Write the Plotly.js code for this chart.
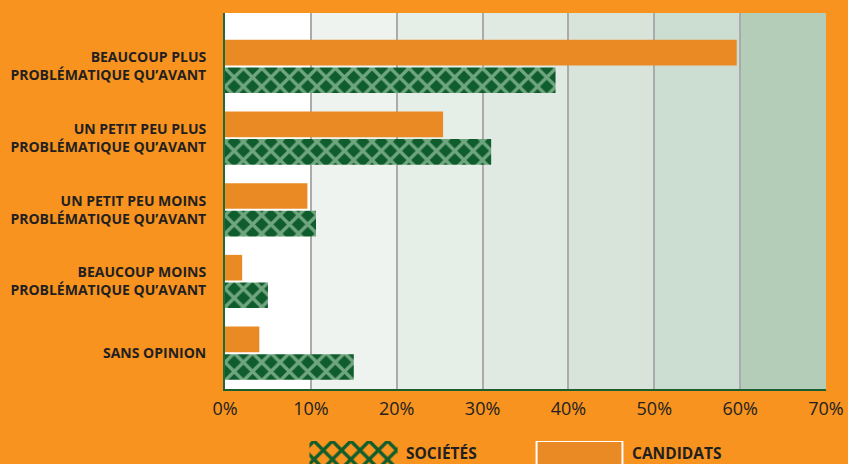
<!DOCTYPE html>
<html>
<head>
<meta charset="utf-8">
<script src="https://cdn.plot.ly/plotly-3.0.1.min.js"></script>
<style>html,body{margin:0;padding:0;background:#F7931E;}#chart{width:848px;height:464px;}</style>
</head>
<body>
<div id="chart"></div>
<script>
// ---- data ----
const categories = [
  "BEAUCOUP PLUS<br>PROBLÉMATIQUE QU’AVANT",
  "UN PETIT PEU PLUS<br>PROBLÉMATIQUE QU’AVANT",
  "UN PETIT PEU MOINS<br>PROBLÉMATIQUE QU’AVANT",
  "BEAUCOUP MOINS<br>PROBLÉMATIQUE QU’AVANT",
  "SANS OPINION"
];
const candidats = [59.6, 25.4, 9.6, 2.0, 4.0];
const societes  = [38.5, 31.0, 10.6, 5.0, 15.0];
const tickVals  = [0, 10, 20, 30, 40, 50, 60, 70];
const tickText  = ["0%", "10%", "20%", "30%", "40%", "50%", "60%", "70%"];
const seriesNames = ["SOCIÉTÉS", "CANDIDATS"];
const bandColors = ["#FFFFFF", "#EEF3EF", "#E6EEE8", "#E0EAE2", "#D8E4DA", "#CCDED1", "#B3CDB8"];

// ---- styles ----
const ORANGE = "#E98A24";
const DARK = "#0F5C2C";
const LIGHT = "#6FA67F";
const TEXT = "#231F20";
const FONT = "Open Sans, sans-serif";
const PATTERN = { shape: "x", fgcolor: LIGHT, bgcolor: DARK, size: 13, solidity: 0.45 };

const traces = [
  {
    type: "bar", orientation: "h", name: seriesNames[1],
    y: categories.map((c, i) => i), x: candidats,
    marker: { color: ORANGE, line: { width: 0 } },
    showlegend: false, hoverinfo: "x"
  },
  {
    type: "bar", orientation: "h", name: seriesNames[0],
    y: categories.map((c, i) => i), x: societes,
    marker: { color: DARK, line: { width: 0 }, pattern: PATTERN },
    showlegend: false, hoverinfo: "x"
  },
  // legend swatches
  {
    type: "bar", xaxis: "x2", yaxis: "y2",
    x: [0, 1], y: [1, 1], width: [0.39, 0.38],
    marker: {
      color: [DARK, ORANGE],
      line: { color: ["rgba(0,0,0,0)", "#FFFFFF"], width: [0, 2] },
      pattern: { shape: ["x", ""], fgcolor: [LIGHT, ORANGE], bgcolor: [DARK, ORANGE], size: 13, solidity: 0.45 }
    },
    showlegend: false, hoverinfo: "skip"
  }
];

const shapes = bandColors.map((c, i) => ({
  type: "rect", xref: "x", yref: "y domain", layer: "below",
  x0: tickVals[i], x1: tickVals[i + 1], y0: 0, y1: 1,
  fillcolor: c, line: { width: 0 }
}));

const annotations = seriesNames.map((n, i) => ({
  xref: "x2", yref: "y2", x: i, y: 0.5, xshift: 50, yshift: 0,
  xanchor: "left", yanchor: "middle", showarrow: false,
  text: "<b>" + n + "</b>", font: { family: FONT, size: 15.5, color: TEXT }
}));

const layout = {
  width: 848, height: 464,
  margin: { l: 225, r: 22, t: 13, b: 0, pad: 0 },
  paper_bgcolor: "#F7931E",
  plot_bgcolor: "rgba(0,0,0,0)",
  barmode: "group", bargap: 0.23, bargroupgap: 0.07,
  showlegend: false,
  font: { family: FONT, color: TEXT },
  xaxis: {
    range: [0, 70], tickvals: tickVals, ticktext: tickText,
    showgrid: true, gridcolor: "#ABABAB", gridwidth: 2,
    zeroline: false, showline: true, linecolor: "#1D5E30", linewidth: 2,
    ticks: "", ticklabelstandoff: 2,
    tickfont: { family: FONT, size: 18, color: TEXT }, fixedrange: true
  },
  yaxis: {
    domain: [0.1663, 1], range: [4.5, -0.746],
    tickvals: categories.map((c, i) => i), ticktext: categories,
    showgrid: false, zeroline: false, showline: true, linecolor: "#1D6B35", linewidth: 2,
    ticks: "", ticklabelstandoff: 14,
    tickfont: { family: FONT, size: 14, color: TEXT, weight: "bold" }, fixedrange: true
  },
  xaxis2: {
    domain: [0.0258, 0.7779], range: [-0.5, 1.5], anchor: "y2",
    visible: false, fixedrange: true
  },
  yaxis2: {
    domain: [0, 0.051], range: [0.05, 1], anchor: "x2",
    visible: false, fixedrange: true
  },
  shapes: shapes,
  annotations: annotations
};

Plotly.newPlot("chart", traces, layout, { displayModeBar: false, staticPlot: true });
</script>
</body>
</html>
